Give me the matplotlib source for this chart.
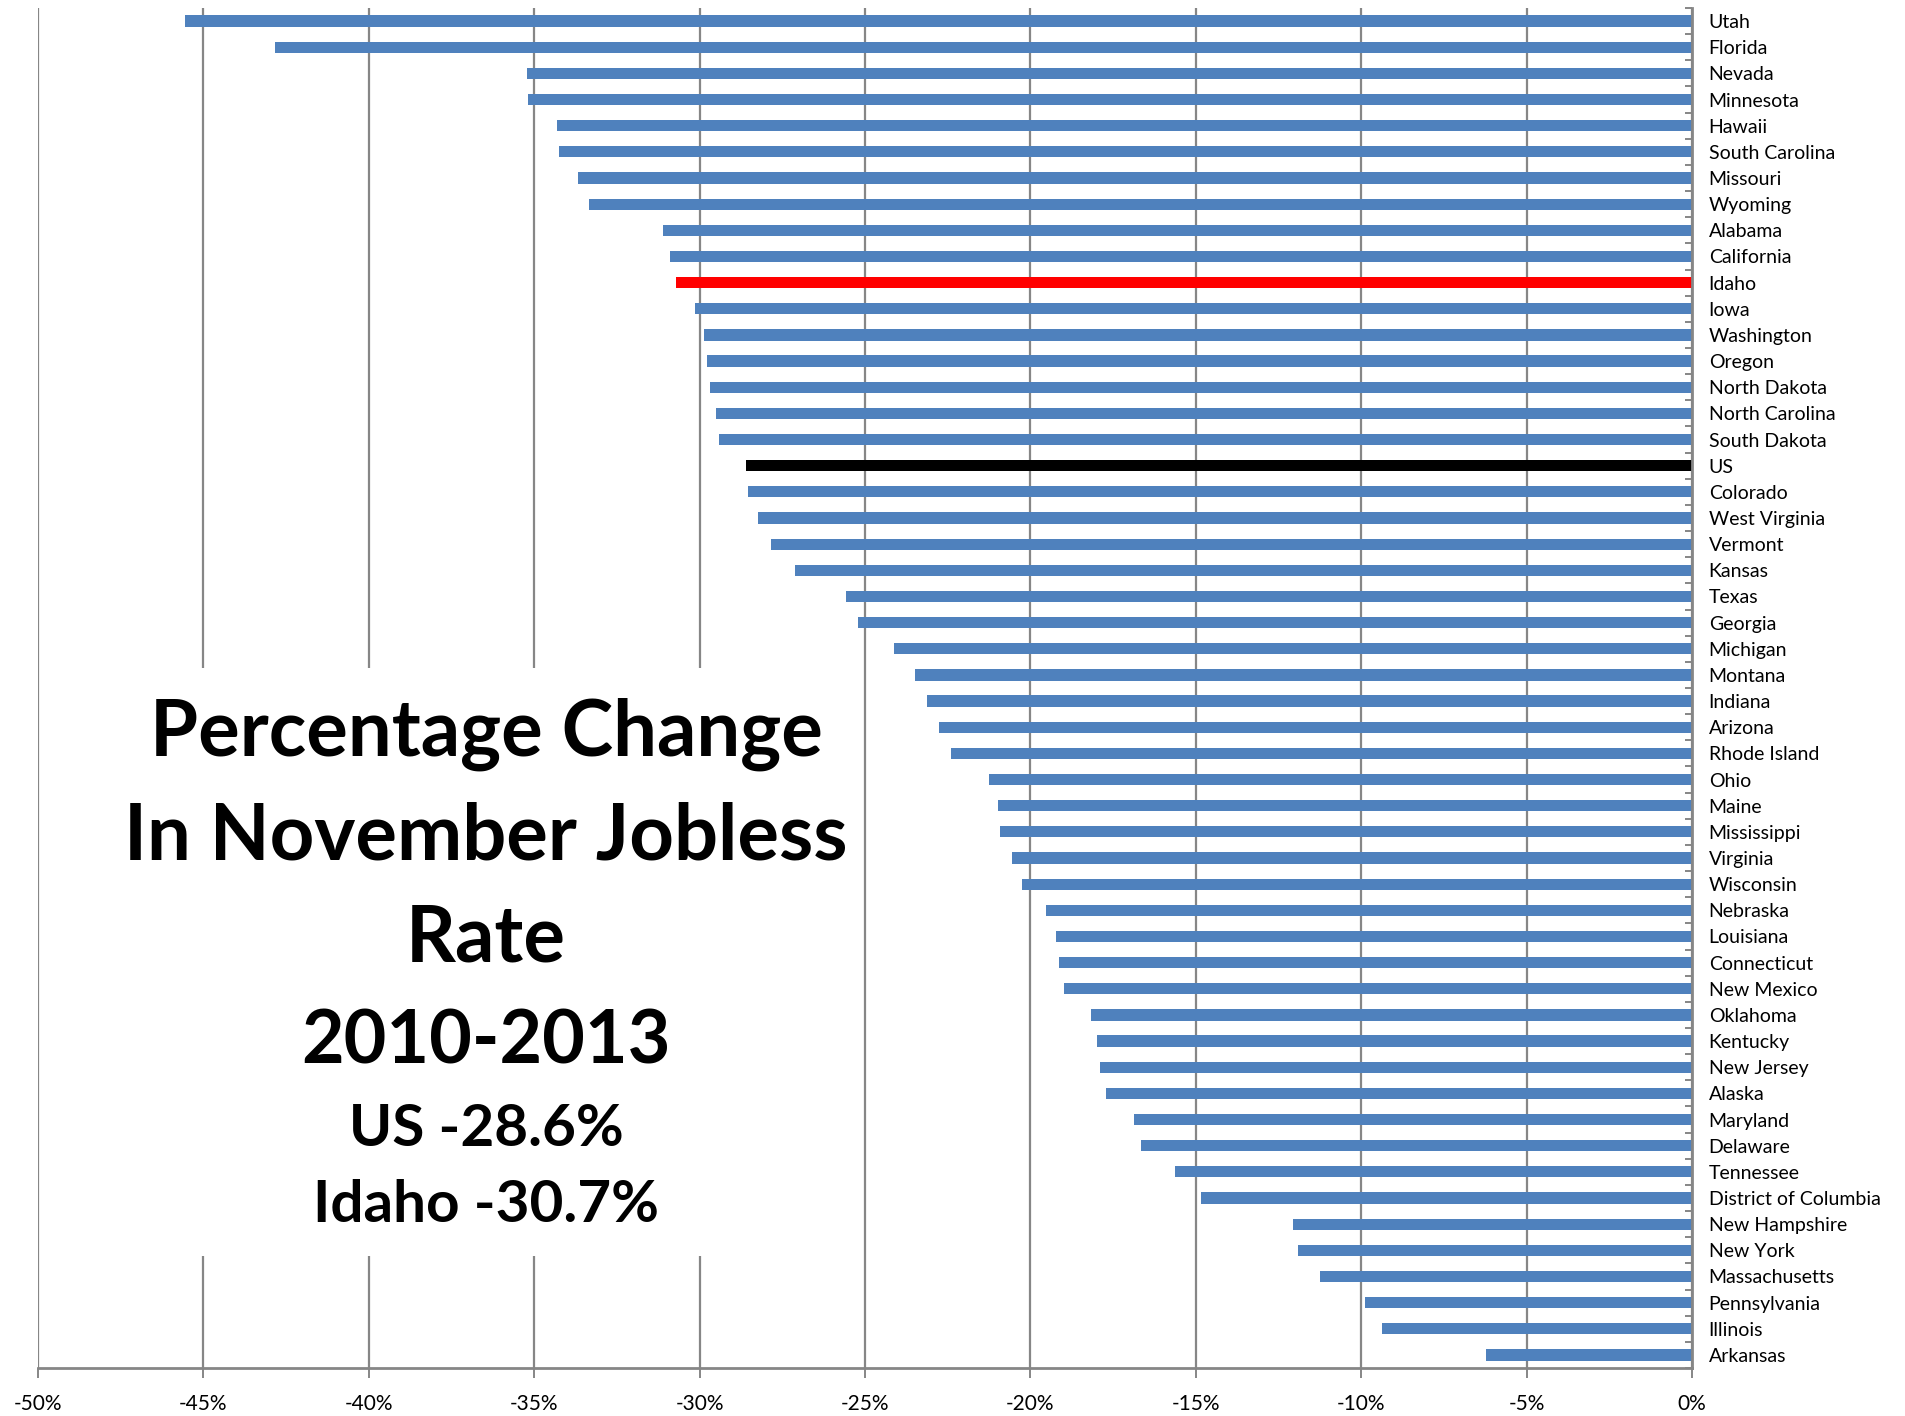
import numpy as np
import matplotlib
matplotlib.use("Agg")
import matplotlib.pyplot as plt
from matplotlib.patches import Rectangle
from matplotlib.ticker import FixedLocator, PercentFormatter

states = ["Utah", "Florida", "Nevada", "Minnesota", "Hawaii", "South Carolina",
          "Missouri", "Wyoming", "Alabama", "California", "Idaho", "Iowa",
          "Washington", "Oregon", "North Dakota", "North Carolina", "South Dakota",
          "US", "Colorado", "West Virginia", "Vermont", "Kansas", "Texas",
          "Georgia", "Michigan", "Montana", "Indiana", "Arizona", "Rhode Island",
          "Ohio", "Maine", "Mississippi", "Virginia", "Wisconsin", "Nebraska",
          "Louisiana", "Connecticut", "New Mexico", "Oklahoma", "Kentucky",
          "New Jersey", "Alaska", "Maryland", "Delaware", "Tennessee",
          "District of Columbia", "New Hampshire", "New York", "Massachusetts",
          "Pennsylvania", "Illinois", "Arkansas"]
change = [-45.55, -42.84, -35.23, -35.20, -34.32, -34.24,
          -33.68, -33.33, -31.10, -30.89, -30.70, -30.15,
          -29.87, -29.78, -29.70, -29.50, -29.40,
          -28.60, -28.55, -28.22, -27.85, -27.12, -25.58,
          -25.21, -24.12, -23.50, -23.14, -22.76, -22.40,
          -21.26, -20.97, -20.93, -20.57, -20.24, -19.54,
          -19.22, -19.14, -18.97, -18.17, -17.99,
          -17.89, -17.71, -16.88, -16.67, -15.62,
          -14.83, -12.06, -11.90, -11.24,
          -9.88, -9.37, -6.24]
x_ticks = [-50, -45, -40, -35, -30, -25, -20, -15, -10, -5, 0]
title_lines = ["Percentage Change", "In November Jobless", "Rate", "2010-2013"]
summary_lines = ["US -28.6%", "Idaho -30.7%"]

BLUE = "#4F81BD"
GRID = "#868686"
colors = []
for s in states:
    if s == "Idaho":
        colors.append("#FF0000")
    elif s == "US":
        colors.append("#000000")
    else:
        colors.append(BLUE)

plt.rcParams["font.family"] = ["Lato", "DejaVu Sans"]
plt.rcParams["axes.unicode_minus"] = False

fig = plt.figure(figsize=(19.06, 14.16), dpi=100)
ax = fig.add_axes([38 / 1906, 48 / 1416, (1692 - 38) / 1906, (1408 - 48) / 1416])

y = np.arange(len(states))
ax.barh(y, change, height=0.43, color=colors, zorder=2)

ax.set_xlim(-50, 0)
ax.set_ylim(len(states) - 0.5, -0.5)

ax.xaxis.set_major_locator(FixedLocator(x_ticks))
ax.xaxis.set_major_formatter(PercentFormatter(decimals=0))
ax.grid(axis="x", color=GRID, linewidth=1.6)
ax.set_axisbelow(True)

ax.yaxis.tick_right()
ax.set_yticks(y)
ax.set_yticklabels(states)
ax.set_yticks(np.arange(len(states) + 1) - 0.5, minor=True)
ax.tick_params(axis="y", which="major", length=0, pad=12, labelsize=14)
ax.tick_params(axis="y", which="minor", direction="in", length=5, width=1.4, color=GRID)
ax.tick_params(axis="x", which="major", length=7, width=1.4, color=GRID,
               labelsize=15, pad=12)

for side in ["top", "left"]:
    ax.spines[side].set_visible(False)
for side in ["right", "bottom"]:
    ax.spines[side].set_color(GRID)
    ax.spines[side].set_linewidth(2)

# white box behind the title, it hides the grid lines
ax.add_patch(Rectangle((-49.6, 0.082), 24.2, 0.433, transform=ax.get_xaxis_transform(),
                       facecolor="white", edgecolor="none", zorder=1))

baselines = [756, 859, 962, 1064]
sizes = [56, 56, 56, 53]
for txt, yb, fs in zip(title_lines, baselines, sizes):
    fig.text(486 / 1906, 1 - yb / 1416, txt, ha="center", va="baseline",
             fontsize=fs, fontweight="bold")
for txt, yb in zip(summary_lines, [1146, 1222]):
    fig.text(486 / 1906, 1 - yb / 1416, txt, ha="center", va="baseline",
             fontsize=42, fontweight="bold")

fig.savefig("out.png", dpi=100)
